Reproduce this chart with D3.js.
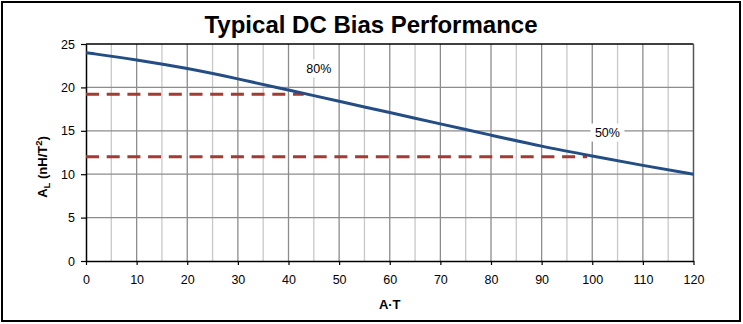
<!DOCTYPE html>
<html><head><meta charset="utf-8">
<script src="https://cdn.jsdelivr.net/npm/d3@7"></script>
<style>
html,body{margin:0;padding:0;background:#fff;}
svg{display:block;font-family:"Liberation Sans",Arial,sans-serif;}
</style></head>
<body><svg id="c" width="743" height="324"></svg>
<script>
const xValues = [0,10,20,30,40,50,60,70,80,90,100,110,120];
const alValues = [24.0,23.2,22.2,21.0,19.7,18.4,17.1,15.8,14.5,13.2,12.1,11.0,10.0];
const refLevels = [19.2, 12.0];
const refEnds = [43, 99];
const refLabels = ["80%", "50%"];
const refLabelPos = [[46, 22.2], [103, 14.8]];
const xTicks = [0,10,20,30,40,50,60,70,80,90,100,110,120];
const yTicks = [0,5,10,15,20,25];

const svg = d3.select("#c");
const L = 86, R = 693.5, T = 44, B = 261;
const x = d3.scaleLinear().domain([0,120]).range([L,R]);
const y = d3.scaleLinear().domain([0,25]).range([B,T]);

svg.append("rect").attr("x",2).attr("y",2).attr("width",738).attr("height",319)
  .attr("fill","#fff").attr("stroke","#000").attr("stroke-width",2);

svg.append("text").attr("x",371).attr("y",33).attr("text-anchor","middle")
  .attr("font-size",24).attr("font-weight","bold").text("Typical DC Bias Performance");

// grid
const g = svg.append("g");
d3.range(5,120,5).forEach(v=>{
  g.append("line").attr("x1",x(v)).attr("x2",x(v)).attr("y1",T).attr("y2",B)
   .attr("stroke", v%10===0 ? "#8c8c8c" : "#c8c8c8").attr("stroke-width",1.3);
});
[5,10,15,20].forEach(v=>{
  g.append("line").attr("x1",L).attr("x2",R).attr("y1",y(v)).attr("y2",y(v))
   .attr("stroke","#8c8c8c").attr("stroke-width",1.3);
});
g.append("line").attr("x1",L).attr("x2",R).attr("y1",T).attr("y2",T).attr("stroke","#000").attr("stroke-width",1.5);
g.append("line").attr("x1",R).attr("x2",R).attr("y1",T).attr("y2",B).attr("stroke","#555").attr("stroke-width",1.5);

// axes
const xAxis = svg.append("g").attr("transform",`translate(0,${B})`)
  .call(d3.axisBottom(x).tickValues(xTicks).tickSize(4).tickPadding(10).tickSizeOuter(0));
const yAxis = svg.append("g").attr("transform",`translate(${L},0)`)
  .call(d3.axisLeft(y).tickValues(yTicks).tickSize(5).tickPadding(6).tickSizeOuter(0));
[xAxis,yAxis].forEach(a=>{
  a.select(".domain").attr("stroke","#000").attr("stroke-width",1.5);
  a.selectAll(".tick line").attr("stroke","#000").attr("stroke-width",1.2);
  a.selectAll("text").attr("font-size",12.5).attr("fill","#000")
   .attr("font-family","'Liberation Sans',Arial,sans-serif");
});

// reference dashed lines
refLevels.forEach((lv,i)=>{
  svg.append("line").attr("x1",x(0)).attr("x2",x(refEnds[i])).attr("y1",y(lv)).attr("y2",y(lv))
    .attr("stroke","#a33a33").attr("stroke-width",3).attr("stroke-dasharray","13,7.7");
});

// curve
const data = xValues.map((v,i)=>[v,alValues[i]]);
svg.append("path").datum(data)
  .attr("d", d3.line().x(d=>x(d[0])).y(d=>y(d[1])).curve(d3.curveBasis))
  .attr("fill","none").attr("stroke","#244d84").attr("stroke-width",3);

// labels
refLabels.forEach((t,i)=>{
  const cx = x(refLabelPos[i][0]), cy = y(refLabelPos[i][1]);
  svg.append("rect").attr("x",cx-17).attr("y",cy-9).attr("width",34).attr("height",18).attr("fill","#fff");
  svg.append("text").attr("x",cx).attr("y",cy+4.5).attr("text-anchor","middle")
    .attr("font-size",12.5).text(t);
});

// axis titles
svg.append("text").attr("x",(L+R)/2).attr("y",309).attr("text-anchor","middle")
  .attr("font-size",13).attr("font-weight","bold").text("A·T");
const yt = svg.append("text").attr("transform","translate(47,167) rotate(-90)")
  .attr("text-anchor","middle").attr("font-size",13).attr("font-weight","bold");
yt.append("tspan").text("A");
yt.append("tspan").attr("font-size",9.5).attr("dy",3).text("L");
yt.append("tspan").attr("dy",-3).text(" (nH/T");
yt.append("tspan").attr("font-size",9.5).attr("dy",-5).text("2");
yt.append("tspan").attr("dy",5).text(")");
</script></body></html>
